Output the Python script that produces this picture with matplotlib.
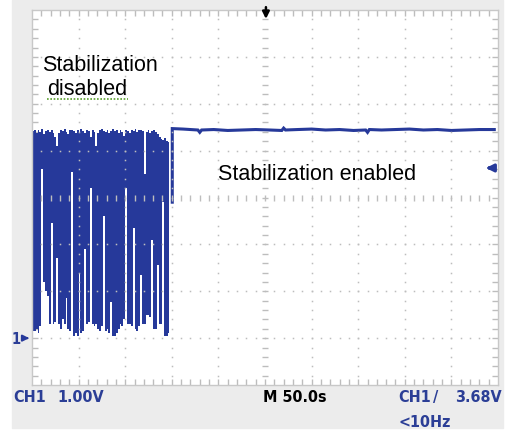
import matplotlib.pyplot as plt
from matplotlib.patches import Rectangle

# scope settings: 50 s/div, 1 V/div, 10 x 8 divisions, ground one div above bottom
t_span = 500.0
v_min, v_max = -1.0, 7.0
trig_level = 3.68

# peak-detect columns of the unstabilized part (one column every 2 s)
noise_t = list(range(1, 149, 2))
noise_top = [4.42, 4.45, 4.38, 4.44, 4.40, 4.46, 4.36, 4.42, 4.45, 4.40,
             4.43, 4.38, 4.30, 4.10, 4.38, 4.44, 4.41, 4.46, 4.40, 4.36,
             4.43, 4.45, 4.42, 4.38, 4.44, 4.40, 4.46, 4.41, 4.37, 4.44,
             4.42, 4.30, 4.45, 4.40, 4.10, 4.38, 4.44, 4.46, 4.42, 4.40,
             4.45, 4.38, 4.42, 4.46, 4.41, 4.43, 4.37, 4.44, 4.40, 4.32,
             4.45, 4.42, 4.38, 4.44, 4.41, 4.46, 4.40, 4.43, 4.45, 4.42,
             3.50, 4.40, 4.44, 4.38, 4.42, 4.45, 4.40, 4.36, 4.30, 4.25,
             4.22, 4.28, 4.20, 4.18]
noise_low = [0.15, 0.15, 0.20, 0.10, 0.25, 3.60, 1.20, 1.00, 0.90, 0.30,
             2.45, 0.30, 0.35, 1.72, 0.30, 0.20, 0.40, 0.30, 0.85, 0.20,
             0.15, 3.55, 0.05, 0.10, 0.05, 1.40, 0.10, 0.15, 1.90, 0.30,
             0.35, 3.20, 0.30, 0.25, 0.30, 0.20, 0.15, 0.25, 2.60, 0.15,
             0.20, 0.10, 0.77, 0.05, 0.05, 0.10, 0.20, 0.30, 0.25, 0.40,
             3.20, 0.30, 0.30, 0.25, 2.35, 0.20, 0.15, 0.25, 1.35, 0.30,
             0.30, 0.50, 0.50, 0.45, 2.10, 0.20, 0.20, 1.55, 0.30, 0.30,
             2.90, 0.05, 0.05, 0.10]

# stabilized part
stable_t = [150.5, 150.5, 162, 170, 178, 180, 182, 195, 210, 225, 240, 255,
            268, 270, 272, 285, 300, 315, 330, 345, 358, 360, 362, 375, 390,
            405, 420, 435, 450, 465, 480, 496]
stable_v = [2.90, 4.47, 4.46, 4.45, 4.44, 4.39, 4.44, 4.45, 4.43, 4.44, 4.45,
            4.44, 4.43, 4.48, 4.44, 4.45, 4.46, 4.44, 4.45, 4.43, 4.44, 4.39,
            4.45, 4.44, 4.45, 4.46, 4.44, 4.45, 4.43, 4.44, 4.45, 4.45]

blue = '#26399a'
txt_blue = '#2b3e96'
grid_c = '#bdbdbd'

fig = plt.figure(figsize=(5.05, 4.30), dpi=100)
fig.patch.set_facecolor('white')
bg = Rectangle((12 / 505, 2 / 430), 491 / 505, 428 / 430,
               transform=fig.transFigure, color='#ececec', zorder=-5)
fig.add_artist(bg)

ax = fig.add_axes([32 / 505, 45 / 430, 466 / 505, 375 / 430])
ax.set_zorder(1)
ax.set_xlim(0, t_span)
ax.set_ylim(v_min, v_max)
ax.set_facecolor('white')
for s in ax.spines.values():
    s.set_color('#c8c8c8')
    s.set_linewidth(1)

# edge ticks
ax.set_xticks([])
ax.set_yticks([])
ax.set_xticks([10 * i for i in range(1, 50)], minor=True)
ax.set_yticks([v_min + 0.2 * i for i in range(1, 40)], minor=True)
ax.tick_params(which='minor', direction='in', length=4, width=1, color=grid_c,
               top=True, right=True, bottom=True, left=True,
               labelbottom=False, labelleft=False)

# trace
ax.fill_between(noise_t, noise_low, noise_top, step='mid', color=blue,
                linewidth=0, zorder=2)
ax.plot(stable_t, stable_v, color=blue, lw=2.2, zorder=2, solid_joinstyle='miter')

# dotted graticule on top of trace
for k in range(1, 10):
    tx = 50 * k
    ys = [v_min + 0.2 * j for j in range(1, 40)]
    if k == 5:
        ax.plot([tx] * len(ys), ys, ls='none', marker='_', ms=5, mew=1, color=grid_c, zorder=3)
    else:
        ax.plot([tx] * len(ys), ys, ls='none', marker='s', ms=1.1, mew=0, color=grid_c, zorder=3)
for k in range(1, 8):
    vy = v_min + k
    xs = [10 * j for j in range(1, 50)]
    if k == 4:
        ax.plot(xs, [vy] * len(xs), ls='none', marker='|', ms=5, mew=1, color=grid_c, zorder=3)
    else:
        ax.plot(xs, [vy] * len(xs), ls='none', marker='s', ms=1.1, mew=0, color=grid_c, zorder=3)

# annotations
lab = dict(fontsize=15.5, family='Liberation Sans', va='baseline', zorder=4)
ax.text(10.5, 5.70, 'Stabilization', **lab)
ax.text(16.5, 5.19, 'disabled', **lab)
ax.plot([16.5, 102.5], [5.11, 5.11], color='#5aa02c', lw=1.2, ls=(0, (1, 1)), zorder=4)
ax.text(199.5, 3.37, 'Stabilization enabled', **lab)

# trigger position marker (top) and trigger level (right)
ax.annotate('', xy=(251, v_max - 0.25), xytext=(251, v_max + 0.12),
            arrowprops=dict(arrowstyle='-|>', color='black', lw=1.8, mutation_scale=10),
            annotation_clip=False)
ax.annotate('', xy=(484, 3.63), xytext=(496, 3.63),
            arrowprops=dict(arrowstyle='-|>', color=blue, lw=2.2, mutation_scale=11),
            annotation_clip=False)

# channel 1 ground marker
fig.text(12 / 505, 1 - 339 / 430, '1', color=txt_blue, fontsize=10.5, weight='bold',
         va='center', ha='left', family='DejaVu Sans', stretch='condensed')
ax.annotate('', xy=(0, 0), xytext=(-9, 0),
            arrowprops=dict(arrowstyle='-|>', color=blue, lw=1.5, mutation_scale=9),
            annotation_clip=False)

# status line
fnt = dict(fontsize=11.5, weight='bold', family='DejaVu Sans', stretch='condensed',
           va='top')
fig.text(13 / 505, 1 - 390 / 430, 'CH1', color=txt_blue, **fnt)
fig.text(57 / 505, 1 - 390 / 430, '1.00V', color=txt_blue, **fnt)
fig.text(263 / 505, 1 - 390 / 430, 'M 50.0s', color='black', **fnt)
fig.text(398 / 505, 1 - 390 / 430, 'CH1', color=txt_blue, **fnt)
fig.text(433 / 505, 1 - 390 / 430, '/', color=txt_blue, **fnt)
fig.text(502 / 505, 1 - 390 / 430, '3.68V', color=txt_blue, ha='right', **fnt)
fig.text(398 / 505, 1 - 415 / 430, '<10Hz', color=txt_blue, **fnt)

fig.savefig('out.png', dpi=100, facecolor=fig.get_facecolor())
